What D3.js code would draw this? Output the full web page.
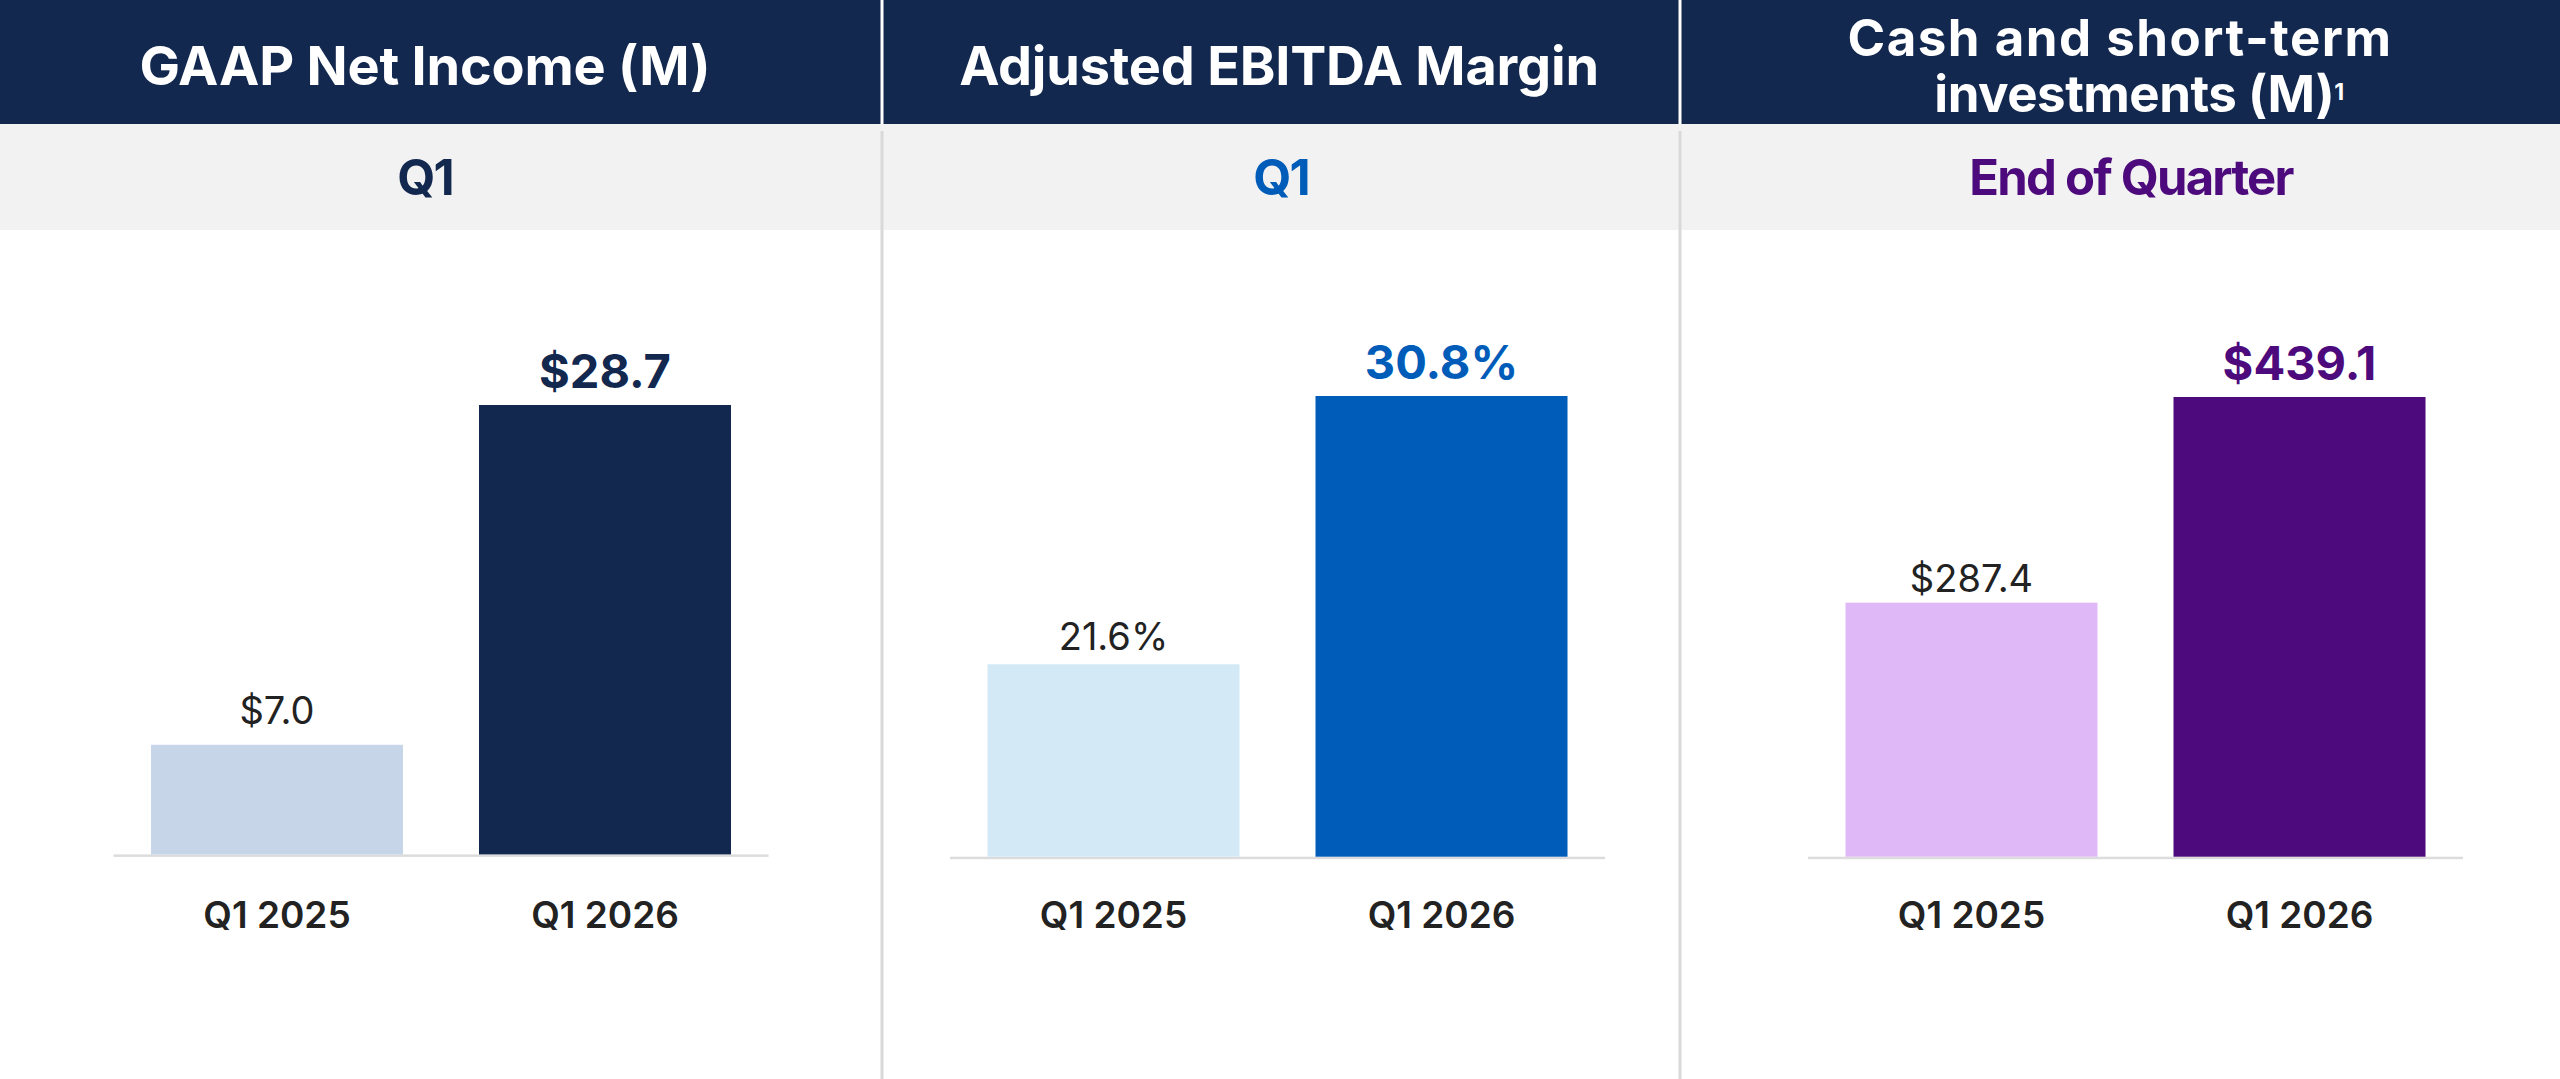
<!DOCTYPE html>
<html>
<head>
<meta charset="utf-8">
<script src="https://cdn.jsdelivr.net/npm/d3@7"></script>
<style>
  html, body { margin: 0; padding: 0; background: #fff; }
  svg { display: block; font-family: Inter, "Noto Sans", sans-serif; }
</style>
</head>
<body>
<svg id="chart" width="2560" height="1079"></svg>
<script>
// ---- data ----
const categories = ["Q1 2025", "Q1 2026"];
const netIncome = [7.0, 28.7];          // $M
const ebitdaMargin = [21.6, 30.8];      // %
const cashInvestments = [287.4, 439.1]; // $M
const axisFloor = [0, 15, 100];         // where each panel's bars start

const titles = [["GAAP Net Income (M)"], ["Adjusted EBITDA Margin"], ["Cash and short-term", "investments (M)"]];
const titleNotes = ["", "", "1"];
const subtitles = ["Q1", "Q1", "End of Quarter"];

// ---- layout / style per panel ----
const W = 2560, H = 1079;
const headerH = 124, bandBottom = 230;
const separators = [882, 1680];

const panels = [
  { values: netIncome, fmt: d => "$" + d3.format(".1f")(d), head: [425], sub: 425, center: 441,
    base: 854.4, top: 405, gap: 21, light: "#c6d5e8", dark: "#13284f", accent: "#13284f" },
  { values: ebitdaMargin, fmt: d => d3.format(".1f")(d) + "%", head: [1279], sub: 1281, center: 1277.5,
    base: 856.7, top: 396, gap: 14, light: "#d3eaf6", dark: "#005cb9", accent: "#005cb9" },
  { values: cashInvestments, fmt: d => "$" + d3.format(".1f")(d), head: [2120, 2139], sub: 2131, center: 2135.5,
    base: 856.7, top: 397, gap: 11, light: "#dfb9f7", dark: "#4d0a7c", accent: "#4d0a7c" }
];

const svg = d3.select("#chart");

// header bands
svg.append("rect").attr("x", 0).attr("y", 0).attr("width", W).attr("height", headerH).attr("fill", "#13284f");
svg.append("rect").attr("x", 0).attr("y", headerH).attr("width", W).attr("height", bandBottom - headerH).attr("fill", "#f2f2f2");

// column separators
separators.forEach(x => {
  svg.append("rect").attr("x", x - 1.5).attr("y", 0).attr("width", 3).attr("height", headerH).attr("fill", "#fff");
  svg.append("rect").attr("x", x - 1.5).attr("y", 131).attr("width", 3).attr("height", H - 131).attr("fill", "#d9d9d9");
});

panels.forEach((p, i) => {
  const g = svg.append("g");

  // title (one text element, a tspan per line)
  const lines = titles[i];
  const twoLine = lines.length > 1;
  const tY = twoLine ? [56, 111.7] : [85];
  const spacing = twoLine ? ["1.5px", "-0.5px"] : ["-0.2px"];
  const title = g.append("text")
    .attr("text-anchor", "middle")
    .attr("fill", "#fff")
    .style("font-size", (twoLine ? 51 : 54) + "px").style("font-weight", 700);
  lines.forEach((line, k) => {
    const ts = title.append("tspan")
      .attr("x", p.head[k]).attr("y", tY[k])
      .style("letter-spacing", spacing[k])
      .text(line);
    if (k === lines.length - 1 && titleNotes[i]) {
      ts.append("tspan").attr("dy", -12).style("font-size", "23px").text(titleNotes[i]);
    }
  });

  // subtitle
  g.append("text")
    .attr("x", p.sub).attr("y", 195)
    .attr("text-anchor", "middle")
    .attr("fill", p.accent)
    .style("font-size", "49px").style("font-weight", 700)
    .style("letter-spacing", "-1.8px")
    .text(subtitles[i]);

  // scales
  const x = d3.scaleBand()
    .domain(categories)
    .range([p.center - 327.5, p.center + 327.5])
    .paddingInner(0.2317)
    .paddingOuter(0.1143);

  const y = d3.scaleLinear()
    .domain([axisFloor[i], d3.max(p.values)])
    .range([p.base, p.top]);

  // baseline
  g.append("rect")
    .attr("x", x.range()[0]).attr("y", p.base)
    .attr("width", x.range()[1] - x.range()[0]).attr("height", 2.5)
    .attr("fill", "#dcdcdc");

  // bars
  g.selectAll("rect.bar")
    .data(p.values)
    .join("rect")
    .attr("class", "bar")
    .attr("x", (d, j) => x(categories[j]))
    .attr("y", d => y(d))
    .attr("width", x.bandwidth())
    .attr("height", d => p.base - y(d))
    .attr("fill", (d, j) => j === 0 ? p.light : p.dark);

  // value labels
  g.selectAll("text.val")
    .data(p.values)
    .join("text")
    .attr("class", "val")
    .attr("x", (d, j) => x(categories[j]) + x.bandwidth() / 2)
    .attr("y", (d, j) => y(d) - (j === 0 ? p.gap : 17))
    .attr("text-anchor", "middle")
    .attr("fill", (d, j) => j === 0 ? "#222" : p.accent)
    .style("font-size", (d, j) => j === 0 ? "38px" : "47px")
    .style("font-weight", (d, j) => j === 0 ? 400 : 700)
    .text(p.fmt);

  // category labels
  g.selectAll("text.cat")
    .data(categories)
    .join("text")
    .attr("class", "cat")
    .attr("x", d => x(d) + x.bandwidth() / 2)
    .attr("y", 928)
    .attr("text-anchor", "middle")
    .attr("fill", "#222")
    .style("font-size", "37px").style("font-weight", 600)
    .text(d => d);
});
</script>
</body>
</html>
